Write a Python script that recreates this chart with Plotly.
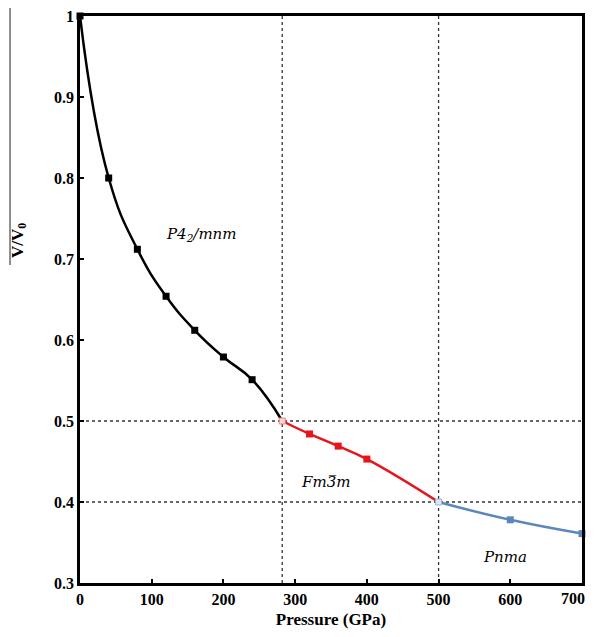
import plotly.graph_objects as go

# Data
p_tetra = [0, 40, 80, 120, 160, 200, 240, 282]
v_tetra = [1.0, 0.800, 0.712, 0.654, 0.612, 0.579, 0.551, 0.500]
p_cubic = [282, 320, 360, 400, 500]
v_cubic = [0.500, 0.484, 0.469, 0.453, 0.400]
p_ortho = [500, 600, 700]
v_ortho = [0.400, 0.378, 0.361]
trans_p = [282, 500]
trans_v = [0.500, 0.400]
x_ticks = [0, 100, 200, 300, 400, 500, 600, 700]
x_ticklabels = ["0", "100", "200", "300", "400", "500", "600", "700"]
y_ticks = [0.3, 0.4, 0.5, 0.6, 0.7, 0.8, 0.9, 1.0]
y_ticklabels = ["0.3", "0.4", "0.5", "0.6", "0.7", "0.8", "0.9", "1"]
phase_labels = ["P4<sub>2</sub>/mnm", "Fm3\u0305m", "Pnma"]
phase_x = [169, 343, 592]
phase_y = [0.730, 0.425, 0.332]

fig = go.Figure()

def seg(px, pv, color, first_hollow, last_hollow):
    fig.add_trace(go.Scatter(x=px, y=pv, mode="lines", line=dict(color=color, width=2.5, shape="spline", smoothing=1.3),
                             showlegend=False, hoverinfo="skip"))
    a = 1 if first_hollow else 0
    b = len(px) - 1 if last_hollow else len(px)
    fig.add_trace(go.Scatter(x=px[a:b], y=pv[a:b], mode="markers", marker=dict(symbol="square", size=7, color=color),
                             showlegend=False, hoverinfo="skip", cliponaxis=False))

seg(p_tetra, v_tetra, "black", False, True)
seg(p_cubic, v_cubic, "#e8141c", True, True)
seg(p_ortho, v_ortho, "#5b87bd", True, False)

fig.add_trace(go.Scatter(x=trans_p[:1], y=trans_v[:1], mode="markers",
                         marker=dict(symbol="square", size=6, color="rgba(255,215,215,1)", line=dict(color="#f08080", width=1)),
                         showlegend=False, hoverinfo="skip"))
fig.add_trace(go.Scatter(x=trans_p[1:], y=trans_v[1:], mode="markers",
                         marker=dict(symbol="square", size=6, color="rgba(220,230,245,1)", line=dict(color="#9ab4d6", width=1)),
                         showlegend=False, hoverinfo="skip"))

# Dotted guide lines
for p in trans_p:
    fig.add_shape(type="line", xref="x", yref="paper", x0=p, x1=p, y0=0, y1=1,
                  line=dict(color="#333333", width=1.3, dash="dot"), layer="below")
for v in trans_v:
    fig.add_shape(type="line", xref="paper", yref="y", x0=0, x1=1, y0=v, y1=v,
                  line=dict(color="#333333", width=1.3, dash="dot"), layer="below")

# thin line at far left
fig.add_shape(type="line", xref="paper", yref="paper", x0=-0.1394, x1=-0.1394, y0=1.014, y1=0.561,
              line=dict(color="#444444", width=1.2))

for t, x, y in zip(phase_labels, phase_x, phase_y):
    fig.add_annotation(x=x, y=y, text="<i>" + t + "</i>", showarrow=False,
                       font=dict(family="DejaVu Serif", size=15, color="black"))

fig.add_annotation(xref="paper", yref="paper", x=-0.1215, y=0.603, xanchor="center", yanchor="middle",
                   text="<b>V/V<sub>0</sub></b>", textangle=-90,
                   showarrow=False, font=dict(family="Liberation Serif", size=17, color="black"))

tickfont = dict(family="Liberation Serif", size=16, color="black", weight="bold")

# last x tick label drawn as annotation so it stays inside the visible page
fig.add_annotation(x=x_ticks[-1], xref="x", y=0, yref="paper", text=x_ticklabels[-1], showarrow=False,
                   xanchor="right", xshift=5, yanchor="middle", yshift=-15, font=tickfont)

axis_common = dict(showline=True, linecolor="black", linewidth=2.5, mirror=True, ticks="inside", ticklen=4,
                   tickwidth=2, tickcolor="black", showgrid=False, zeroline=False, automargin=False,
                   ticklabeloverflow="allow", tickfont=tickfont)

fig.update_layout(
    width=587, height=621,
    margin=dict(l=72, r=13, t=8, b=46),
    plot_bgcolor="white", paper_bgcolor="white",
    xaxis=dict(range=[0, 700], tickvals=x_ticks, ticktext=x_ticklabels[:-1] + [""], **axis_common,
               title=dict(text="Pressure (GPa)", font=dict(family="Liberation Serif", size=17, color="black", weight="bold"), standoff=12)),
    yaxis=dict(range=[0.3, 1.0], tickvals=y_ticks, ticktext=y_ticklabels, **axis_common),
)

fig.write_html("out.html")
